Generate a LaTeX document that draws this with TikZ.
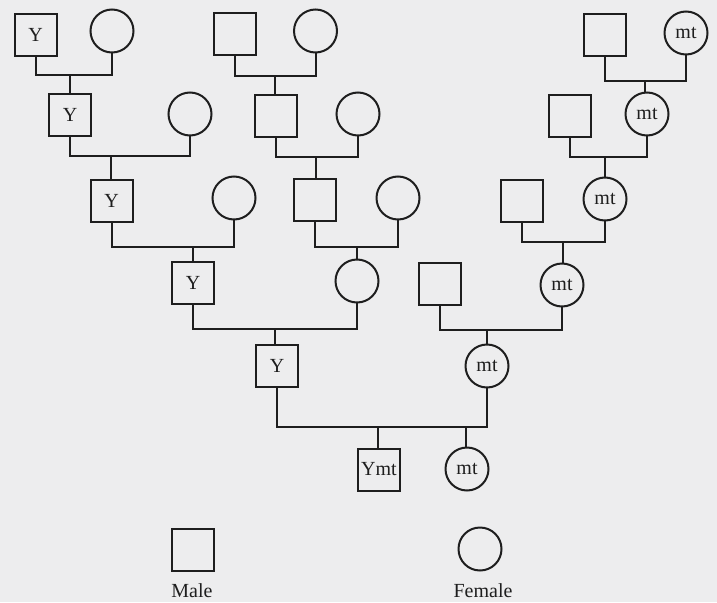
\documentclass[tikz,border=0pt]{standalone}
\usepackage{fontspec}
\setmainfont{Liberation Serif}
\usepackage{tikz}
\definecolor{paper}{HTML}{EDEDEE}
\definecolor{ink}{HTML}{1E1E1E}
\tikzset{
  male/.style={draw=ink, rectangle, line width=2pt, minimum size=42pt, inner sep=0pt, text=ink, font=\fontsize{20}{24}\selectfont},
  female/.style={draw=ink, circle, line width=2pt, minimum size=43pt, inner sep=0pt, text=ink, font=\fontsize{20}{24}\selectfont},
  kin/.style={draw=ink, line width=2pt, line cap=rect},
  lab/.style={text=ink, font=\fontsize{20}{24}\selectfont, inner sep=0pt},
}
\begin{document}
\begin{tikzpicture}[x=1pt,y=-1pt]
  \fill[paper] (0,0) rectangle (717,602);
  \useasboundingbox (0,0) rectangle (717,602);
  % generation 1
  \node[male]   (m11) at (35.5,35) {Y};
  \node[female] (f11) at (112,31) {};
  \node[male]   (m12) at (235,34) {};
  \node[female] (f12) at (315.5,31) {};
  \node[male]   (m13) at (604.5,35) {};
  \node[female] (f13) at (686,33) {mt};
  % generation 2
  \node[male]   (m21) at (70,114.5) {Y};
  \node[female] (f21) at (190,114) {};
  \node[male]   (m22) at (276,116) {};
  \node[female] (f22) at (358,114) {};
  \node[male]   (m23) at (569.5,115.5) {};
  \node[female] (f23) at (647,114) {mt};
  % generation 3
  \node[male]   (m31) at (111.5,201) {Y};
  \node[female] (f31) at (234,198) {};
  \node[male]   (m32) at (315,199.5) {};
  \node[female] (f32) at (398,198) {};
  \node[male]   (m33) at (522,200.5) {};
  \node[female] (f33) at (605,199) {mt};
  % generation 4
  \node[male]   (m41) at (193,283) {Y};
  \node[female] (f41) at (357,281) {};
  \node[male]   (m42) at (440,283.5) {};
  \node[female] (f42) at (562,285) {mt};
  % generation 5
  \node[male]   (m51) at (277,366) {Y};
  \node[female] (f51) at (487,366) {mt};
  % generation 6
  \node[male]   (m61) at (379,469.5) {Ymt};
  \node[female] (f61) at (467,469) {mt};
  % couple lines
  \coordinate (j1a) at (70,75);
  \coordinate (j1b) at (275,76);
  \coordinate (j1c) at (645,81);
  \coordinate (j2a) at (111,156);
  \coordinate (j2b) at (316,157);
  \coordinate (j2c) at (605,157);
  \coordinate (j3a) at (193,247);
  \coordinate (j3b) at (357,247);
  \coordinate (j3c) at (563,242);
  \coordinate (j4a) at (275,329);
  \coordinate (j4b) at (487,330);
  \coordinate (j5a) at (378,427);
  \coordinate (j5b) at (466,427);
  \draw[kin] (m11.south) |- (j1a) -| (f11.south);
  \draw[kin] (m12.south) |- (j1b) -| (f12.south);
  \draw[kin] (m13.south) |- (j1c) -| (f13.south);
  \draw[kin] (m21.south) |- (j2a) -| (f21.south);
  \draw[kin] (m22.south) |- (j2b) -| (f22.south);
  \draw[kin] (m23.south) |- (j2c) -| (f23.south);
  \draw[kin] (m31.south) |- (j3a) -| (f31.south);
  \draw[kin] (m32.south) |- (j3b) -| (f32.south);
  \draw[kin] (m33.south) |- (j3c) -| (f33.south);
  \draw[kin] (m41.south) |- (j4a) -| (f41.south);
  \draw[kin] (m42.south) |- (j4b) -| (f42.south);
  \draw[kin] (m51.south) |- (j5a) -| (f51.south);
  % children
  \draw[kin] (j1a) -- (j1a |- m21.north);
  \draw[kin] (j1b) -- (j1b |- m22.north);
  \draw[kin] (j1c) -- (j1c |- f23.north);
  \draw[kin] (j2a) -- (j2a |- m31.north);
  \draw[kin] (j2b) -- (j2b |- m32.north);
  \draw[kin] (j2c) -- (j2c |- f33.north);
  \draw[kin] (j3a) -- (j3a |- m41.north);
  \draw[kin] (j3b) -- (j3b |- f41.north);
  \draw[kin] (j3c) -- (j3c |- f42.north);
  \draw[kin] (j4a) -- (j4a |- m51.north);
  \draw[kin] (j4b) -- (j4b |- f51.north);
  \draw[kin] (j5a) -- (j5a |- m61.north);
  \draw[kin] (j5b) -- (j5b |- f61.north);
  % legend
  \node[male]   (ml) at (192.5,550) {};
  \node[female] (fl) at (480,549) {};
  \node[lab, anchor=base] (lm) at (192,597) {Male};
  \node[lab, anchor=base] (lf) at (483,597) {Female};
\end{tikzpicture}
\end{document}
